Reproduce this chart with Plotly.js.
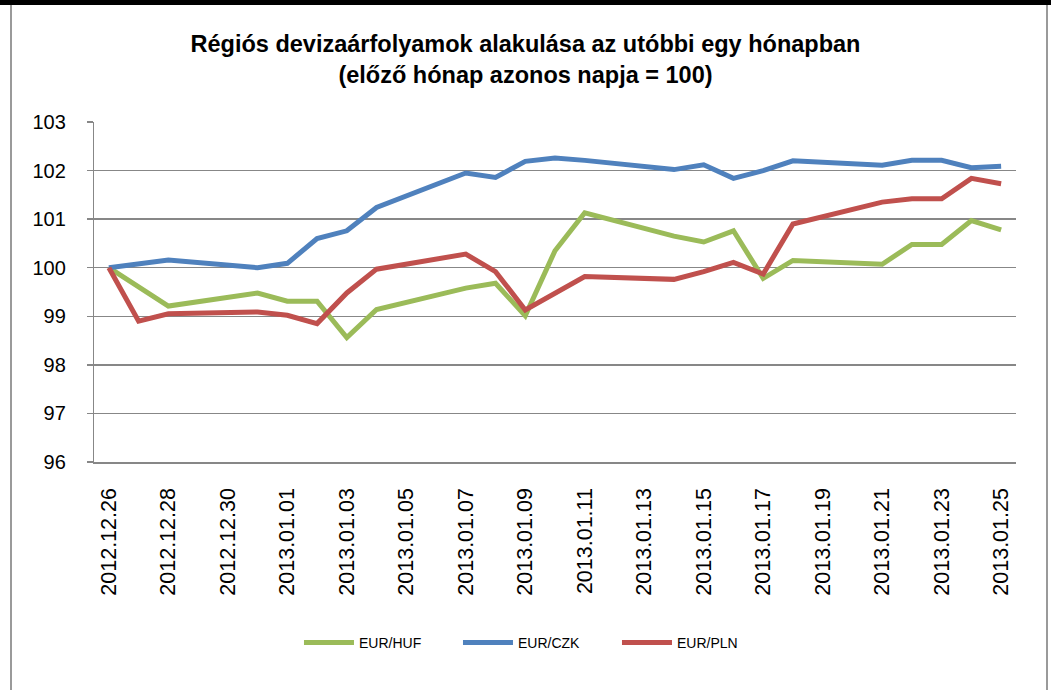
<!DOCTYPE html>
<html>
<head>
<meta charset="utf-8">
<script src="https://cdn.plot.ly/plotly-3.0.1.min.js"></script>
<style>
body{margin:0;background:#fff;width:1051px;height:690px;overflow:hidden;position:relative}
#topbar{position:absolute;left:0;top:0;width:1051px;height:5px;background:#000;z-index:5}
#frame{position:absolute;left:10px;top:4px;width:1034px;height:700px;border:2px solid #9a9a9a;border-top:none;z-index:4;pointer-events:none}
#chart{position:absolute;left:0;top:0;width:1051px;height:690px}
</style>
</head>
<body>
<div id="chart"></div>
<div id="frame"></div>
<div id="topbar"></div>
<script>
const dates = ['2012-12-26','2012-12-27','2012-12-28','2012-12-31','2013-01-01','2013-01-02','2013-01-03','2013-01-04','2013-01-07','2013-01-08','2013-01-09','2013-01-10','2013-01-11','2013-01-14','2013-01-15','2013-01-16','2013-01-17','2013-01-18','2013-01-21','2013-01-22','2013-01-23','2013-01-24','2013-01-25'];
const seriesNames = ['EUR/HUF','EUR/CZK','EUR/PLN'];
const eurHuf = [100, null, 99.21, 99.48, 99.31, 99.31, 98.56, 99.14, 99.58, 99.68, 99.01, 100.35, 101.13, 100.65, 100.53, 100.76, 99.78, 100.15, 100.07, 100.48, 100.48, 100.97, 100.78];
const eurCzk = [100, null, 100.16, 100.00, 100.09, 100.60, 100.76, 101.24, 101.95, 101.86, 102.19, 102.26, 102.21, 102.02, 102.12, 101.84, 102.00, 102.20, 102.11, 102.21, 102.21, 102.06, 102.09];
const eurPln = [100, 98.90, 99.05, 99.09, 99.02, 98.85, 99.48, 99.97, 100.28, 99.92, 99.13, null, 99.82, 99.76, 99.92, 100.11, 99.87, 100.90, 101.35, 101.42, 101.42, 101.84, 101.73];
const colors = ['#9BBB59','#4F81BD','#C0504D'];
const values = [eurHuf, eurCzk, eurPln];

const traces = values.map((v,i)=>({
  x: dates, y: v, name: seriesNames[i], type:'scatter', mode:'lines',
  connectgaps: true,
  line:{color: colors[i], width:5, shape:'linear'},
  hoverinfo:'skip'
}));

const DAY = 86400000;
const xr = ['2012-12-25 12:00','2013-01-25 12:00'];
const gridC = '#878787';
const layout = {
  width:1051, height:690,
  paper_bgcolor:'rgba(0,0,0,0)', plot_bgcolor:'#fff',
  margin:{l:94, r:35, t:122, b:228},
  title:{
    text:'Régiós devizaárfolyamok alakulása az utóbbi egy hónapban<br>(előző hónap azonos napja = 100)',
    font:{family:'Liberation Sans, Arial, sans-serif', size:23.5, color:'#000', weight:'bold'},
    x:0.5, xanchor:'center', xref:'container', yref:'container', y:1-52/690, yanchor:'middle'
  },
  xaxis:{
    type:'date', range:xr, tick0:'2012-12-26', dtick:2*DAY, tickformat:'%Y.%m.%d',
    tickangle:-90, ticks:'', showgrid:false, zeroline:false,
    showline:true, linecolor:gridC, linewidth:1.5,
    tickfont:{family:'Liberation Sans, Arial, sans-serif', size:21.5, color:'#000'},
    ticklabelstandoff:16, fixedrange:true
  },
  xaxis2:{
    type:'date', range:xr, tick0:'2012-12-25 12:00', dtick:2*DAY,
    overlaying:'x', anchor:'y', side:'bottom', ticks:'outside', ticklen:6, tickwidth:1.5, tickcolor:gridC,
    showticklabels:false, showgrid:false, zeroline:false, showline:false
  },
  yaxis:{
    range:[96,103], dtick:1, tick0:96, showgrid:true, gridcolor:gridC, gridwidth:1.5,
    showline:true, linecolor:gridC, linewidth:1.5, ticks:'outside', ticklen:6, tickwidth:1.5, tickcolor:gridC,
    zeroline:false, ticksuffix:'\u00a0\u00a0\u00a0',
    tickfont:{family:'Liberation Sans, Arial, sans-serif', size:20, color:'#000'}
  },
  showlegend:true,
  legend:{
    orientation:'h', x:0.481, xanchor:'center', y:-0.532, yanchor:'middle',
    font:{family:'Liberation Sans, Arial, sans-serif', size:14, color:'#000'},
    itemwidth:50, entrywidth:94, entrywidthmode:'pixels', tracegroupgap:0
  }
};
Plotly.newPlot('chart', traces, layout, {displayModeBar:false, staticPlot:true});
</script>
</body>
</html>
